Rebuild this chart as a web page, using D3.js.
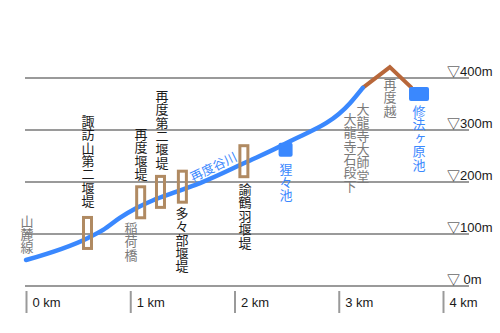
<!DOCTYPE html>
<html>
<head>
<meta charset="utf-8">
<script src="https://cdn.jsdelivr.net/npm/d3@7"></script>
<style>
  html, body { margin: 0; padding: 0; background: #fff; }
  svg { display: block; font-family: "Liberation Sans", "Noto Sans CJK JP", sans-serif; }
  .vt { writing-mode: vertical-rl; text-orientation: upright; font-family: "Noto Sans CJK JP", sans-serif; }
</style>
</head>
<body>
<svg id="chart" width="500" height="333"></svg>
<script>
// Elevation profile along 再度谷川 (distance in km, elevation in m)
const riverKm   = [0.00, 0.59, 0.74, 0.90, 1.06, 1.22, 1.41, 1.52, 1.67, 2.10, 2.50, 3.11, 3.23];
const riverElev = [50,   92,   108,  131,  150,  165,  179,  187,  198,  237,  275,  352,  381];

// Trail over the pass 再度越
const passKm   = [3.23, 3.49, 3.70];
const passElev = [381,  421,  381];

// Check dams (堰堤) along the river
const damNames = ["諏訪山第二堰堤", "再度堰堤", "再度第二堰堤", "多々部堰堤", "諭鶴羽堰堤"];
const damKm    = [0.59, 1.10, 1.29, 1.50, 2.09];
const damElev  = [102,  161,  181,  191,  240];

// Ponds
const pondNames = ["猩々池", "修法ヶ原池"];
const pondKm    = [2.49, 3.77];
const pondElev  = [262,  369];

// Axis ticks
const elevTicks = [0, 100, 200, 300, 400];
const elevTickLabels = ["▽ 0m", "▽100m", "▽200m", "▽300m", "▽400m"];
const kmTicks = [0, 1, 2, 3, 4];
const kmTickLabels = ["0 km", "1 km", "2 km", "3 km", "4 km"];

// Vertical place labels: text, kind, anchor (km, elevation of the first glyph)
const placeNames = ["諏訪山第二堰堤", "再度堰堤", "再度第二堰堤", "多々部堰堤", "諭鶴羽堰堤",
                    "山麓線", "稲荷橋", "猩々池", "大龍寺大師堂", "大龍寺石段下", "再度越", "修法ヶ原池"];
const placeKinds = ["dam", "dam", "dam", "dam", "dam",
                    "spot", "spot", "pond", "spot", "spot", "spot", "pond"];
const placeKm    = [0.595, 1.103, 1.305, 1.496, 2.10, 0.01, 1.007, 2.494, 3.233, 3.108, 3.492, 3.77];
const placeElev  = [329,   304,   377,   152,   198,  137,  123,   237,   352,   333,   400,   348];

const COLORS = { river: "#3a88fe", pass: "#b8673a", dam: "#b08a62", grid: "#9a9a9a",
                 text: "#1a1a1a", gray: "#7a7a7a" };
const kindColor = { dam: COLORS.text, spot: COLORS.gray, pond: COLORS.river };
const CJK = "Noto Sans CJK JP, sans-serif";

const svg = d3.select("#chart");
const x = d3.scaleLinear().domain([0, 4]).range([26, 443]);
const y = d3.scaleLinear().domain([0, 400]).range([286, 78]);

// Horizontal elevation grid
svg.append("g").selectAll("line").data(elevTicks).join("line")
  .attr("x1", 25).attr("x2", 469)
  .attr("y1", d => y(d)).attr("y2", d => y(d))
  .attr("stroke", COLORS.grid).attr("stroke-width", 2);

svg.append("g").selectAll("text").data(elevTicks).join("text")
  .attr("x", 447).attr("y", d => y(d) - 2)
  .attr("font-size", 13).attr("fill", COLORS.text)
  .text((d, i) => elevTickLabels[i]);

// Distance axis
const xAxis = d3.axisBottom(x).tickValues(kmTicks).tickSize(22)
  .tickFormat((d, i) => kmTickLabels[i]);
const gx = svg.append("g").attr("transform", "translate(0,291)").call(xAxis);
gx.select(".domain").remove();
gx.selectAll(".tick line").attr("stroke", COLORS.grid).attr("stroke-width", 2);
gx.selectAll(".tick text")
  .attr("x", 6).attr("y", 16).attr("dy", 0)
  .attr("text-anchor", "start")
  .attr("font-size", 13).attr("fill", COLORS.text)
  .attr("font-family", "Liberation Sans, sans-serif");

const line = d3.line().x(d => x(d[0])).y(d => y(d[1]));

// Pass trail
svg.append("path")
  .datum(passKm.map((k, i) => [k, passElev[i]]))
  .attr("d", line).attr("fill", "none")
  .attr("stroke", COLORS.pass).attr("stroke-width", 4)
  .attr("stroke-linejoin", "miter");

// Ponds
const pondW = [14, 20];
svg.append("g").selectAll("rect").data(pondKm).join("rect")
  .attr("x", (d, i) => x(d) - pondW[i] / 2)
  .attr("y", (d, i) => y(pondElev[i]) - 7)
  .attr("width", (d, i) => pondW[i]).attr("height", 14)
  .attr("rx", 2).attr("fill", COLORS.river);

// River profile
svg.append("path")
  .datum(riverKm.map((k, i) => [k, riverElev[i]]))
  .attr("d", line.curve(d3.curveMonotoneX)).attr("fill", "none")
  .attr("stroke", COLORS.river).attr("stroke-width", 4.5)
  .attr("stroke-linecap", "round").attr("stroke-linejoin", "round");

// Check dams
svg.append("g").selectAll("rect").data(damKm).join("rect")
  .attr("x", d => x(d) - 4)
  .attr("y", (d, i) => y(damElev[i]) - 15.5)
  .attr("width", 8).attr("height", 31)
  .attr("fill", "none")
  .attr("stroke", COLORS.dam).attr("stroke-width", 3);

// River name along the line
svg.append("text")
  .attr("transform", "translate(213,166) rotate(-26)")
  .attr("text-anchor", "middle").attr("dominant-baseline", "central")
  .attr("font-size", 12.5).attr("fill", COLORS.river)
  .attr("font-family", CJK)
  .text("再度谷川");

// Vertical place labels
svg.append("g").selectAll("text").data(placeNames).join("text")
  .attr("class", "vt")
  .attr("x", (d, i) => x(placeKm[i]))
  .attr("y", (d, i) => y(placeElev[i]) - 0.5)
  .attr("font-size", 13)
  .attr("letter-spacing", 0.4)
  .attr("fill", (d, i) => kindColor[placeKinds[i]])
  .text(d => d);
</script>
</body>
</html>
